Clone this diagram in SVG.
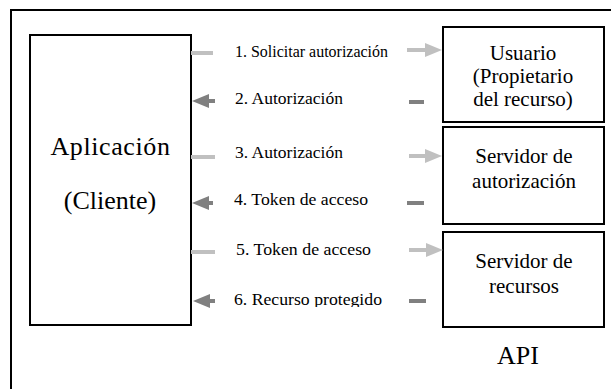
<svg xmlns="http://www.w3.org/2000/svg" width="611" height="389" viewBox="0 0 611 389">
<style>
.box{fill:#fff;stroke:#000;stroke-width:2}
.frame{fill:#fff;stroke:#000;stroke-width:2}
.lt{stroke:#c0c0c0;stroke-width:4;fill:none}
.dk{stroke:#808080;stroke-width:4;fill:none}
</style>
<defs>
<marker id="hl" markerUnits="userSpaceOnUse" markerWidth="17" markerHeight="14" refX="3" refY="7" orient="auto"><path d="M0,0 L17,7 L0,14 Z" fill="#c0c0c0"/></marker>
<marker id="hd" markerUnits="userSpaceOnUse" markerWidth="17" markerHeight="14" refX="3" refY="7" orient="auto"><path d="M0,0 L17,7 L0,14 Z" fill="#808080"/></marker>
<clipPath id="c6"><rect x="200" y="280" width="220" height="27"/></clipPath>
</defs>
<rect class="frame" x="11" y="10" width="620" height="400"/>
<g id="cliente">
<rect class="box" x="30" y="35" width="161" height="290"/>
<text font-family="Liberation Serif" font-size="26" text-anchor="middle" x="110.5" y="155" letter-spacing="0.6">Aplicación</text>
<text font-family="Liberation Serif" font-size="26" text-anchor="middle" x="110" y="209">(Cliente)</text>
</g>
<g id="usuario">
<rect class="box" x="443" y="27" width="161" height="95"/>
<text font-family="Liberation Serif" font-size="21" text-anchor="middle" x="523" y="60">Usuario</text>
<text font-family="Liberation Serif" font-size="21" text-anchor="middle" x="523" y="83">(Propietario</text>
<text font-family="Liberation Serif" font-size="21" text-anchor="middle" x="523" y="106">del recurso)</text>
</g>
<g id="servidor-autorizacion">
<rect class="box" x="443" y="127" width="161" height="97"/>
<text font-family="Liberation Serif" font-size="21" text-anchor="middle" x="524" y="163">Servidor de</text>
<text font-family="Liberation Serif" font-size="21" text-anchor="middle" x="524" y="188">autorización</text>
</g>
<g id="servidor-recursos">
<rect class="box" x="443" y="232" width="161" height="95"/>
<text font-family="Liberation Serif" font-size="21" text-anchor="middle" x="524" y="268">Servidor de</text>
<text font-family="Liberation Serif" font-size="21" text-anchor="middle" x="524" y="293">recursos</text>
</g>
<g id="api">
<text font-family="Liberation Serif" font-size="26" text-anchor="middle" x="518" y="364">API</text>
</g>
<g id="connectors">
<line class="lt" x1="191" y1="53" x2="213" y2="53"/>
<line class="lt" x1="407" y1="50" x2="428" y2="50" marker-end="url(#hl)"/>
<text font-family="Liberation Serif" font-size="16.5" x="235" y="57" textLength="153" lengthAdjust="spacingAndGlyphs">1. Solicitar autorización</text>

<line class="dk" x1="215" y1="101" x2="206" y2="101" marker-end="url(#hd)"/>
<line class="dk" x1="409" y1="102" x2="424" y2="102"/>
<text font-family="Liberation Serif" font-size="16.5" x="235" y="104" textLength="108" lengthAdjust="spacingAndGlyphs">2. Autorización</text>

<line class="lt" x1="191" y1="157" x2="215" y2="157"/>
<line class="lt" x1="409" y1="156" x2="428" y2="156" marker-end="url(#hl)"/>
<text font-family="Liberation Serif" font-size="16.5" x="235" y="158" textLength="108" lengthAdjust="spacingAndGlyphs">3. Autorización</text>

<line class="dk" x1="213" y1="203" x2="206" y2="203" marker-end="url(#hd)"/>
<line class="dk" x1="407" y1="203" x2="424" y2="203"/>
<text font-family="Liberation Serif" font-size="16.5" x="234" y="205" textLength="134" lengthAdjust="spacingAndGlyphs">4. Token de acceso</text>

<line class="lt" x1="191" y1="252" x2="215" y2="252"/>
<line class="lt" x1="409" y1="250" x2="429" y2="250" marker-end="url(#hl)"/>
<text font-family="Liberation Serif" font-size="16.5" x="236" y="255" textLength="135" lengthAdjust="spacingAndGlyphs">5. Token de acceso</text>

<line class="dk" x1="215" y1="301" x2="207" y2="301" marker-end="url(#hd)"/>
<line class="dk" x1="409" y1="301" x2="426" y2="301"/>
<text font-family="Liberation Serif" font-size="16.5" x="234" y="305" textLength="148" lengthAdjust="spacingAndGlyphs" clip-path="url(#c6)">6. Recurso protegido</text>
</g>
</svg>
